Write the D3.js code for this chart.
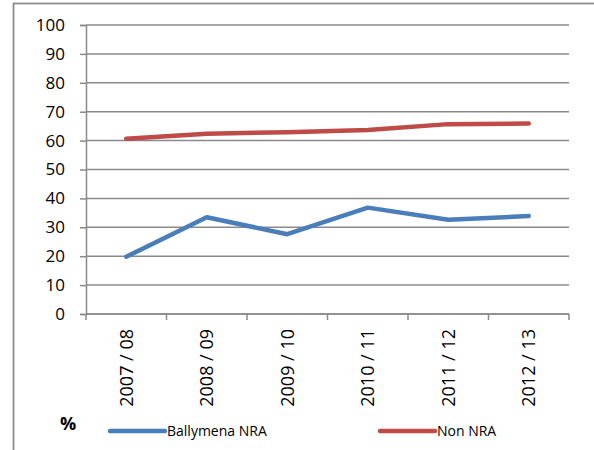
<!DOCTYPE html>
<html>
<head>
<meta charset="utf-8">
<script src="https://cdn.jsdelivr.net/npm/d3@7"></script>
<style>
  body { margin: 0; background: #fff; }
  text { font-family: 'Open Sans', sans-serif; fill: #000; }
</style>
</head>
<body>
<script>
// the data
const YEARS = ['2007 / 08', '2008 / 09', '2009 / 10', '2010 / 11', '2011 / 12', '2012 / 13']
const BALLYMENA = [19.8, 33.5, 27.6, 36.8, 32.6, 33.9]
const NON_NRA = [60.6, 62.4, 62.9, 63.7, 65.7, 65.9]
const Y_TICKS = [0, 10, 20, 30, 40, 50, 60, 70, 80, 90, 100]
const SERIES = [
  { name: 'Ballymena NRA', values: BALLYMENA, color: '#4a7ebb' },
  { name: 'Non NRA', values: NON_NRA, color: '#be4b48' },
]

// dimensions
const WIDTH = 594
const HEIGHT = 450
const LEFT = 86
const RIGHT = 569
const TOP = 25
const BOTTOM = 314

const svg = d3.select('body')
  .append('svg')
  .attr('width', WIDTH)
  .attr('height', HEIGHT)

// outer chart border (only the left and top edges are in the picture)
svg.append('rect')
  .attr('x', 13.5)
  .attr('y', 3.5)
  .attr('width', WIDTH + 20)
  .attr('height', HEIGHT + 20)
  .attr('fill', 'none')
  .attr('stroke', '#8c8c8c')
  .attr('stroke-width', 1.8)

// scales
const xScale = d3.scaleBand()
  .domain(YEARS)
  .range([LEFT, RIGHT])

const yScale = d3.scaleLinear()
  .domain([0, 100])
  .range([BOTTOM, TOP])

// horizontal gridlines
svg.append('g')
  .selectAll('line')
  .data(Y_TICKS)
  .enter()
  .append('line')
  .attr('x1', LEFT)
  .attr('x2', RIGHT)
  .attr('y1', d => yScale(d))
  .attr('y2', d => yScale(d))
  .attr('stroke', '#8a8a8a')
  .attr('stroke-width', 1.5)

// y axis
const yAxis = svg.append('g')
  .attr('transform', `translate(${LEFT},0)`)
  .call(d3.axisLeft(yScale).tickValues(Y_TICKS).tickSize(6).tickPadding(15))
yAxis.selectAll('path, line').attr('stroke', '#8a8a8a').attr('stroke-width', 1.5)
yAxis.selectAll('text')
  .style('font-family', "'Open Sans', sans-serif")
  .style('font-size', '17px')
  .attr('fill', '#000')

// x axis, ticks between the categories
const xAxis = svg.append('g')
  .attr('transform', `translate(0,${BOTTOM})`)
xAxis.append('line')
  .attr('x1', LEFT)
  .attr('x2', RIGHT)
  .attr('stroke', '#8a8a8a')
  .attr('stroke-width', 1.5)
xAxis.selectAll('line.tick')
  .data(YEARS.concat(['end']))
  .enter()
  .append('line')
  .attr('class', 'tick')
  .attr('x1', (d, i) => i < YEARS.length ? xScale(d) : RIGHT)
  .attr('x2', (d, i) => i < YEARS.length ? xScale(d) : RIGHT)
  .attr('y1', 0)
  .attr('y2', 6)
  .attr('stroke', '#8a8a8a')
  .attr('stroke-width', 1.5)

// rotated category labels
xAxis.selectAll('text')
  .data(YEARS)
  .enter()
  .append('text')
  .attr('transform', d => `translate(${xScale(d) + xScale.bandwidth() / 2},15) rotate(-90)`)
  .attr('dy', '0.35em')
  .attr('text-anchor', 'end')
  .style('font-size', '18px')
  .text(d => d)

// axis title
svg.append('text')
  .attr('x', 68)
  .attr('y', 430)
  .attr('text-anchor', 'middle')
  .style('font-size', '18px')
  .style('font-weight', 'bold')
  .text('%')

// the lines
const line = d3.line()
  .x((d, i) => xScale(YEARS[i]) + xScale.bandwidth() / 2)
  .y(d => yScale(d))

svg.selectAll('path.series')
  .data(SERIES)
  .enter()
  .append('path')
  .attr('class', 'series')
  .attr('d', d => line(d.values))
  .attr('fill', 'none')
  .attr('stroke', d => d.color)
  .attr('stroke-width', 4.5)
  .attr('stroke-linecap', 'round')
  .attr('stroke-linejoin', 'round')

// legend
const LEGEND_X = [110, 380]
const legend = svg.selectAll('g.legend')
  .data(SERIES)
  .enter()
  .append('g')
  .attr('class', 'legend')
  .attr('transform', (d, i) => `translate(${LEGEND_X[i]},431)`)
legend.append('line')
  .attr('x1', 0)
  .attr('x2', 55)
  .attr('stroke', d => d.color)
  .attr('stroke-width', 4.5)
  .attr('stroke-linecap', 'round')
legend.append('text')
  .attr('x', 57)
  .attr('dy', '0.35em')
  .style('font-size', '14px')
  .text(d => d.name)
</script>
</body>
</html>
